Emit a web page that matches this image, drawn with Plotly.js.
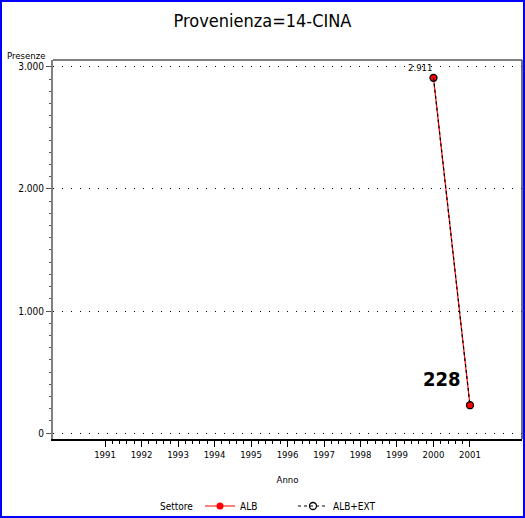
<!DOCTYPE html>
<html>
<head>
<meta charset="utf-8">
<script src="https://cdn.plot.ly/plotly-3.0.1.min.js"></script>
<style>
  html, body { margin:0; padding:0; background:#fff; }
  #wrap { position:relative; width:525px; height:518px; }
  #plot { position:absolute; left:0; top:0; width:525px; height:518px; }
  #frame { position:absolute; left:0; top:0; width:525px; height:518px; box-sizing:border-box; border:2px solid #0000ff; pointer-events:none; }
</style>
</head>
<body>
<div id="wrap"><div id="plot"></div><div id="frame"></div></div>
<script>
// ---- data ----
const chartTitle = "Provenienza=14-CINA";
const years = [2000, 2001];
const albValues = [2911, 228];
const albExtValues = [2911, 228];
const seriesNames = ["ALB", "ALB+EXT"];
const xTickYears = [1991, 1992, 1993, 1994, 1995, 1996, 1997, 1998, 1999, 2000, 2001];
const xAxisTitle = "Anno";
const yAxisTitle = "Presenze";
const legendTitle = "Settore";

const FONT = "'Liberation Sans Narrow', 'DejaVu Sans Condensed', 'Arial Narrow', sans-serif";

function fmt(v) {
  return String(Math.round(v)).replace(/\B(?=(\d{3})+(?!\d))/g, ".");
}

// minor x ticks between first and last labelled year
const minorX = [];
for (let i = 0; i < xTickYears.length - 1; i++) {
  for (let k = 1; k < 5; k++) minorX.push(xTickYears[i] + k * 0.2);
}

const traces = [
  {
    x: years, y: albValues, name: seriesNames[0], type: "scatter", mode: "lines+markers",
    line: { color: "#ff0000", width: 1.2 },
    marker: { symbol: "circle", size: 7, color: "#ff0000", line: { color: "#000", width: 0 } }
  },
  {
    x: years, y: albExtValues, name: seriesNames[1], type: "scatter", mode: "lines+markers",
    line: { color: "#000000", width: 1.2, dash: "3px,3px" },
    marker: { symbol: "circle-open", size: 7, color: "#000000", line: { width: 1.3 } }
  }
];

const n = years.length;
const annotations = [
  {
    x: years[0], y: albValues[0], xref: "x", yref: "y", text: fmt(albValues[0]),
    showarrow: false, xanchor: "right", yanchor: "bottom", yshift: 3, xshift: 1,
    font: { family: FONT, size: 9.5, color: "#000" }
  },
  {
    x: years[n - 1], y: albValues[n - 1], xref: "x", yref: "y", text: "<b>" + fmt(albValues[n - 1]) + "</b>",
    showarrow: false, xanchor: "right", yanchor: "bottom", xshift: -7, yshift: 12,
    font: { family: FONT, size: 20, color: "#000" }
  },
  {
    x: -0.012, y: 1.013, xref: "paper", yref: "paper", text: yAxisTitle,
    showarrow: false, xanchor: "right", yanchor: "middle",
    font: { family: FONT, size: 9.5, color: "#000" }
  },
  {
    x: (158 - 53) / 469, y: -(506 - 439) / 379, xref: "paper", yref: "paper", text: legendTitle,
    showarrow: false, xanchor: "left", yanchor: "middle",
    font: { family: FONT, size: 10, color: "#000" }
  }
];

const layout = {
  width: 525, height: 518,
  margin: { l: 53, r: 3, t: 60, b: 79 },
  paper_bgcolor: "#fff", plot_bgcolor: "#fff",
  separators: ",.",
  font: { family: FONT, size: 10, color: "#000" },
  title: { text: chartTitle, x: 0.5, xanchor: "center", y: 0.961, yanchor: "middle",
           font: { family: FONT, size: 18, color: "#000" } },
  showlegend: true,
  legend: {
    orientation: "h", xref: "container", yref: "container",
    x: 200 / 525, xanchor: "left", y: 1 - 506 / 518, yanchor: "middle",
    font: { family: FONT, size: 10, color: "#000" },
    itemwidth: 30, entrywidth: 48, tracegroupgap: 0,
    bgcolor: "rgba(0,0,0,0)"
  },
  xaxis: {
    range: [1989.575, 2002.425],
    tickmode: "array", tickvals: xTickYears, ticktext: xTickYears.map(String),
    ticks: "outside", ticklen: 6, tickwidth: 1, tickcolor: "#000",
    showline: true, linecolor: "#000", linewidth: 1.5,
    showgrid: false, zeroline: false,
    tickfont: { family: FONT, size: 9.5, color: "#000" },
    minor: { tickmode: "array", tickvals: minorX, ticks: "outside", ticklen: 3, tickcolor: "#000", showgrid: false },
    title: { text: xAxisTitle, standoff: 17, font: { family: FONT, size: 9.5, color: "#000" } }
  },
  yaxis: {
    range: [-49, 3057],
    tickmode: "linear", tick0: 0, dtick: 1000, tickformat: ",d",
    ticks: "outside", ticklen: 5, tickwidth: 1, tickcolor: "#555",
    showline: true, linecolor: "#808080", linewidth: 2,
    showgrid: true, gridcolor: "#000", gridwidth: 1, griddash: "1px,8px",
    zeroline: false,
    tickfont: { family: FONT, size: 10, color: "#000" },
    minor: { dtick: 100, ticks: "outside", ticklen: 2, tickcolor: "#555", showgrid: false }
  },
  shapes: [
    { type: "line", xref: "paper", yref: "paper", x0: 0, x1: 1, y0: 1, y1: 1, line: { color: "#808080", width: 2 } },
    { type: "line", xref: "paper", yref: "paper", x0: 1, x1: 1, y0: 0, y1: 1, line: { color: "#404040", width: 1.5 } }
  ],
  annotations: annotations
};

Plotly.newPlot("plot", traces, layout, { displayModeBar: false, staticPlot: true });
</script>
</body>
</html>
